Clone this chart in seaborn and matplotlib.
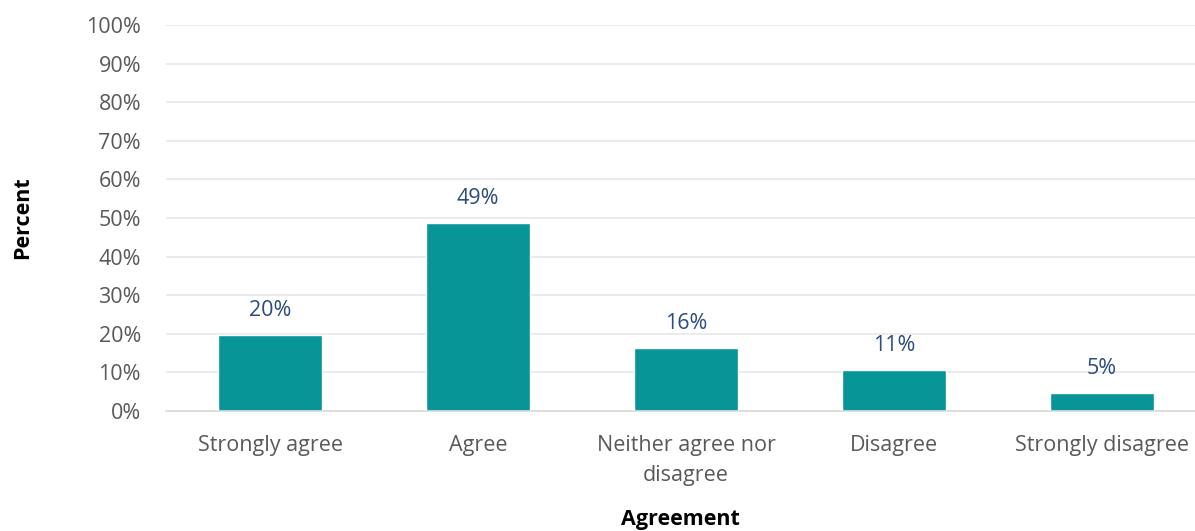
import pandas as pd
import matplotlib.pyplot as plt
import seaborn as sns
from matplotlib.ticker import PercentFormatter

# data
categories = ["Strongly agree", "Agree", "Neither agree nor\ndisagree", "Disagree", "Strongly disagree"]
percents = [19.8, 48.8, 16.4, 10.6, 4.6]
labels = ["20%", "49%", "16%", "11%", "5%"]

df = pd.DataFrame({"Agreement": categories, "Percent": percents})

sns.set_theme(style="white")
plt.rcParams["font.family"] = ["Open Sans", "DejaVu Sans"]

fig = plt.figure(figsize=(11.95, 5.31), dpi=100)
ax = fig.add_axes([166 / 1195, 1 - 411 / 531, 1 - 166 / 1195, (411 - 25) / 531])

sns.barplot(data=df, x="Agreement", y="Percent", color="#089598",
            saturation=1, width=0.5, ax=ax)

ax.set_ylim(0, 100)
ax.set_xlim(-0.5, (1195 - 166) / 208 - 0.5)
ax.set_yticks(range(0, 101, 10))
ax.yaxis.set_major_formatter(PercentFormatter(decimals=0))
ax.grid(axis="y", color="#E8E8E8", linewidth=1.2)
ax.set_axisbelow(True)

for s in ["top", "right", "left"]:
    ax.spines[s].set_visible(False)
ax.spines["bottom"].set_color("#D9D9D9")
ax.spines["bottom"].set_linewidth(1.2)

ax.tick_params(axis="both", length=0, labelsize=15.5, colors="#595959")
ax.tick_params(axis="y", pad=18)
ax.tick_params(axis="x", pad=17)
for t in ax.get_xticklabels():
    t.set_linespacing(1.6)

for i, (v, t) in enumerate(zip(percents, labels)):
    ax.annotate(t, (i, v), xytext=(0, 13.5), textcoords="offset points",
                ha="center", va="baseline", fontsize=15.5, color="#2B4C7E")

ax.set_xlabel("Agreement", fontsize=15.5, fontweight="bold", color="black")
ax.set_ylabel("Percent", fontsize=15.5, fontweight="bold", color="black")
ax.xaxis.set_label_coords(0.5, (411 - 509) / 386)
ax.yaxis.set_label_coords((33 - 166) / 1029, 0.5)

plt.savefig("out.png", dpi=100)
